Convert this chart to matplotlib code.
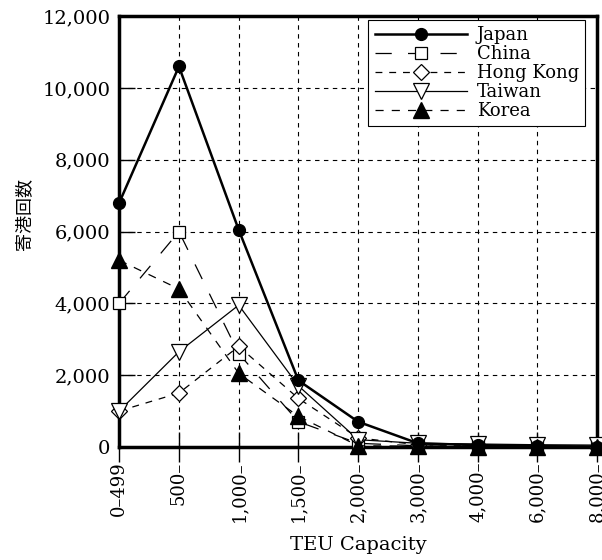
import matplotlib
matplotlib.use("Agg")
import matplotlib.pyplot as plt

plt.rcParams['font.family'] = ['DejaVu Serif', 'Noto Sans CJK JP']

categories = ["0–499", "500–", "1,000–", "1,500–", "2,000–", "3,000–", "4,000–", "6,000–", "8,000–"]
japan = [6800, 10600, 6050, 1850, 700, 100, 50, 20, 10]
china = [4000, 6000, 2600, 700, 100, 30, 20, 10, 5]
hong_kong = [1000, 1500, 2800, 1350, 250, 60, 40, 20, 10]
taiwan = [1000, 2650, 3950, 1700, 200, 100, 80, 60, 50]
korea = [5200, 4400, 2050, 850, 30, 20, 10, 10, 5]
yticks = [0, 2000, 4000, 6000, 8000, 10000, 12000]

fig = plt.figure(figsize=(6.02, 5.6), dpi=100)
ax = fig.add_axes([0.198, 0.202, 0.794, 0.769])

x = list(range(len(categories)))
ax.plot(x, japan, color='black', lw=1.8, marker='o', ms=8.5, label='Japan', clip_on=False, zorder=5)
ax.plot(x, china, color='black', lw=0.9, ls=(0, (13, 13)), marker='s', ms=8, mfc='white',
        mew=0.9, label='China', clip_on=False, zorder=4)
ax.plot(x, hong_kong, color='black', lw=0.9, ls=(0, (5.5, 5.5)), marker='D', ms=8, mfc='white',
        mew=0.9, label='Hong Kong', clip_on=False, zorder=4)
ax.plot(x, taiwan, color='black', lw=0.9, marker='v', ms=12, mfc='white',
        mew=0.9, label='Taiwan', clip_on=False, zorder=4)
ax.plot(x, korea, color='black', lw=0.9, ls=(0, (6.5, 6.5)), marker='^', ms=12,
        label='Korea', clip_on=False, zorder=5)

ax.set_xlim(0, len(categories) - 1)
ax.set_ylim(0, 12000)
ax.set_xticks(x)
ax.set_xticklabels(categories, rotation=90, fontsize=13)
ax.set_yticks(yticks)
ax.set_yticklabels([f"{v:,}" for v in yticks], fontsize=14)
ax.tick_params(axis='x', direction='inout', length=21, width=1, pad=0)
ax.tick_params(axis='y', direction='in', length=11.5, width=1, pad=6.5)
ax.grid(True, color='black', ls=(0, (4, 4)), lw=0.8)

for s in ax.spines.values():
    s.set_linewidth(2.5)

ax.set_xlabel("TEU Capacity", fontsize=14, labelpad=10)
ax.set_ylabel("寄港回数", fontsize=13)
ax.yaxis.set_label_coords(-0.18, 0.54)

leg = ax.legend(loc='upper right', bbox_to_anchor=(0.975, 0.991), fontsize=13,
                handlelength=5.1, frameon=True, fancybox=False, borderpad=0.35,
                labelspacing=0.05, handletextpad=0.55, borderaxespad=0)
leg.get_frame().set_edgecolor('black')
leg.get_frame().set_linewidth(0.8)
leg.get_frame().set_alpha(1)

fig.savefig("out.png", dpi=100)
